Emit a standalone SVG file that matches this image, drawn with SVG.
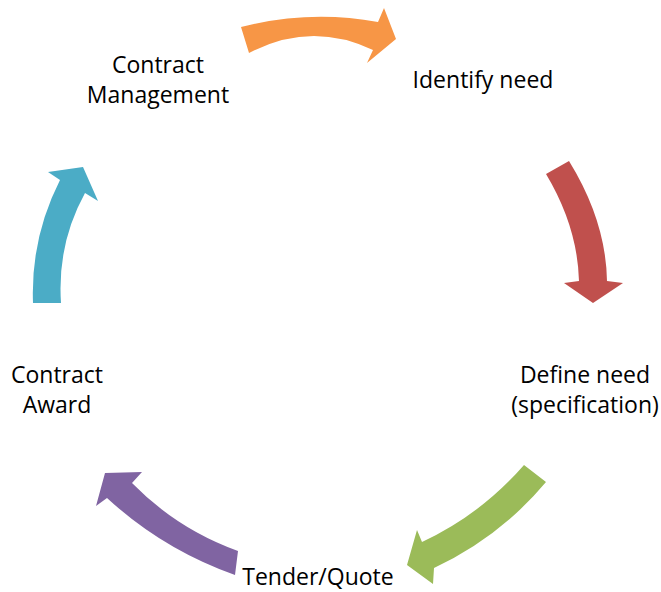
<svg xmlns="http://www.w3.org/2000/svg" width="661" height="592" viewBox="0 0 661 592">
<style>
text{font-family:"Open Sans","Liberation Sans",sans-serif;font-size:23px;fill:#000;text-anchor:middle}
</style>
<rect width="661" height="592" fill="#fff"/>
<g id="connectors">
<path id="arrow-orange" fill="#F79646" d="M241,27 Q309.5,9.5 378,22 L384,8 L396,39 L367,63 L373,50 Q311,20.5 249,53 Z"/>
<path id="arrow-red" fill="#C0504D" d="M569,161 Q606,221 607,281 L623,283 L593,303 L564,283 L579,281 Q577.5,226.5 546,174 Z"/>
<path id="arrow-green" fill="#9BBB59" d="M546,482 Q500,537 434,568 L433,584 L407,565 L417,530 L422,542 Q481,514.5 524,465 Z"/>
<path id="arrow-purple" fill="#8064A2" d="M235,575 Q163,549.5 107,498 L96,506 L105,473 L142,472 L132,483 Q177,529 238,551 Z"/>
<path id="arrow-teal" fill="#4BACC6" d="M33,303 Q30.5,238 60,180 L48,172 L83,167 L98,201 L85,193 Q57,244 61,303 Z"/>
</g>
<g id="node-identify"><text x="483" y="88">Identify need</text></g>
<g id="node-define"><text x="585" y="383">Define need</text><text x="585" y="413">(specification)</text></g>
<g id="node-tender"><text x="318" y="585">Tender/Quote</text></g>
<g id="node-award"><text x="57" y="383">Contract</text><text x="57" y="413">Award</text></g>
<g id="node-management"><text x="158" y="73">Contract</text><text x="158" y="103">Management</text></g>
</svg>
